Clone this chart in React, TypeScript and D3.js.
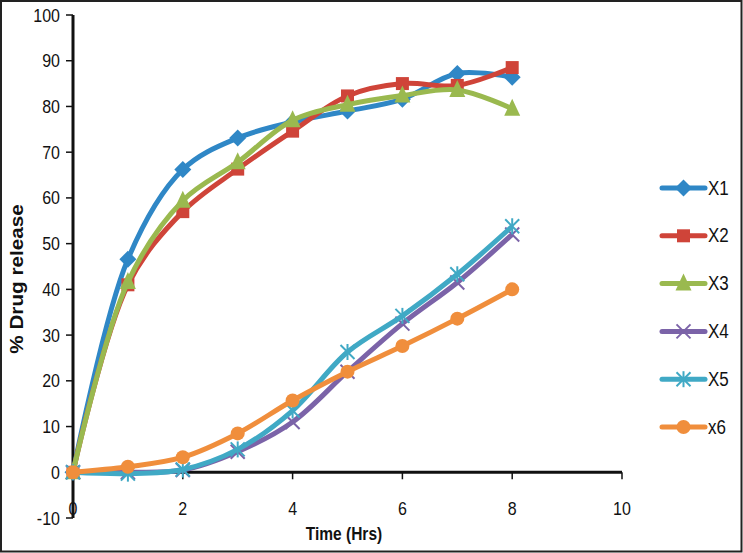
import React from "react";
import * as d3 from "d3";

const times = [0, 1, 2, 3, 4, 5, 6, 7, 8];
const seriesNames = ["X1", "X2", "X3", "X4", "X5", "x6"];
const x1 = [0, 46.6, 66.2, 73.1, 76.6, 79.0, 81.6, 87.2, 86.4];
const x2 = [0, 41.0, 57.0, 66.3, 74.6, 82.3, 85.0, 84.6, 88.5];
const x3 = [0, 41.6, 59.4, 67.8, 77.0, 80.4, 82.4, 83.6, 79.5];
const x4 = [0, 0, 0.5, 4.5, 11.0, 22.0, 32.5, 41.5, 52.0];
const x5 = [0, -0.3, 0.6, 5.0, 13.5, 26.3, 34.2, 43.3, 53.8];
const x6 = [0, 1.2, 3.3, 8.5, 15.7, 22.0, 27.6, 33.6, 40.0];
const seriesValues = [x1, x2, x3, x4, x5, x6];
const colors = ["#2f87c6", "#cf4439", "#9ab94f", "#7b63a8", "#40a9c5", "#f08e3c"];
const markers = ["diamond", "square", "triangle", "x", "asterisk", "circle"];
const yTicks = [-10, 0, 10, 20, 30, 40, 50, 60, 70, 80, 90, 100];
const xTicks = [0, 2, 4, 6, 8, 10];

const W = 743;
const H = 553;
const FONT = "'Liberation Sans', Arial, sans-serif";
const SY = 1.15;

function Marker({ type, x, y, color }: { type: string; x: number; y: number; color: string }) {
  if (type === "diamond") {
    const s = 8.5;
    return <path d={`M${x},${y - s}L${x + s},${y}L${x},${y + s}L${x - s},${y}Z`} fill={color} />;
  }
  if (type === "square") {
    const s = 6.5;
    return <rect x={x - s} y={y - s} width={2 * s} height={2 * s} fill={color} />;
  }
  if (type === "triangle") {
    const s = 8;
    return <path d={`M${x},${y - s - 2}L${x + s},${y + s - 1}L${x - s},${y + s - 1}Z`} fill={color} />;
  }
  if (type === "circle") {
    return <circle cx={x} cy={y} r={7} fill={color} />;
  }
  if (type === "x") {
    const s = 7;
    return (
      <g stroke={color} strokeWidth={2}>
        <line x1={x - s} y1={y - s} x2={x + s} y2={y + s} />
        <line x1={x - s} y1={y + s} x2={x + s} y2={y - s} />
      </g>
    );
  }
  const s = 7;
  return (
    <g stroke={color} strokeWidth={2}>
      <line x1={x - s} y1={y - s} x2={x + s} y2={y + s} />
      <line x1={x - s} y1={y + s} x2={x + s} y2={y - s} />
      <line x1={x} y1={y - s - 1} x2={x} y2={y + s + 1} />
    </g>
  );
}

function T({ x, y, anchor, size, bold, children, rotate }: any) {
  const tr = rotate ? `translate(${x},${y}) rotate(-90) scale(${SY},1)` : `translate(${x},${y}) scale(1,${SY})`;
  return (
    <text
      transform={tr}
      textAnchor={anchor}
      fontSize={size}
      fontWeight={bold ? "bold" : "normal"}
      fontFamily={FONT}
      fill="#111"
    >
      {children}
    </text>
  );
}

export default function App() {
  const xScale = d3.scaleLinear().domain([0, 10]).range([73, 622]);
  const yScale = d3.scaleLinear().domain([-10, 100]).range([518, 15]);
  const line = d3
    .line<number>()
    .x((_, i) => xScale(times[i]))
    .y((d) => yScale(d))
    .curve(d3.curveCatmullRom.alpha(0.5));

  const legendX1 = 662;
  const legendX2 = 705;
  const legendY0 = 188;
  const legendStep = 47.8;

  return (
    <svg width={W} height={H} style={{ position: "absolute", left: 0, top: 0 }}>
      <rect x={0} y={0} width={W} height={H} fill="#fff" />
      <rect x={1} y={1} width={W - 2.5} height={H - 2.5} fill="none" stroke="#222" strokeWidth={2} />

      <line x1={xScale(0)} y1={yScale(100)} x2={xScale(0)} y2={yScale(-10)} stroke="#111" strokeWidth={3} />
      {yTicks.map((t) => (
        <g key={"y" + t}>
          <line x1={xScale(0) - 7} y1={yScale(t)} x2={xScale(0)} y2={yScale(t)} stroke="#111" strokeWidth={1.5} />
          <T x={60} y={yScale(t) + 6.5} anchor="end" size={16}>
            {t}
          </T>
        </g>
      ))}

      <line x1={xScale(0)} y1={yScale(0)} x2={xScale(10)} y2={yScale(0)} stroke="#111" strokeWidth={3} />
      {xTicks.map((t) => (
        <g key={"x" + t}>
          <line x1={xScale(t)} y1={yScale(0)} x2={xScale(t)} y2={yScale(0) + 7} stroke="#111" strokeWidth={1.5} />
          <T x={xScale(t)} y={515} anchor="middle" size={16}>
            {t}
          </T>
        </g>
      ))}

      <T x={344} y={540} anchor="middle" size={15.5} bold>
        Time (Hrs)
      </T>
      <T x={23} y={279} anchor="middle" size={18} bold rotate>
        % Drug release
      </T>

      {seriesValues.map((vals, si) => (
        <g key={seriesNames[si]}>
          <path d={line(vals) || ""} fill="none" stroke={colors[si]} strokeWidth={5} strokeLinejoin="round" />
          {vals.map((v, i) => (
            <Marker key={i} type={markers[si]} x={xScale(times[i])} y={yScale(v)} color={colors[si]} />
          ))}
        </g>
      ))}

      {seriesNames.map((n, si) => {
        const y = legendY0 + si * legendStep;
        return (
          <g key={"lg" + n}>
            <line x1={legendX1} y1={y} x2={legendX2} y2={y} stroke={colors[si]} strokeWidth={5} strokeLinecap="round" />
            <Marker type={markers[si]} x={(legendX1 + legendX2) / 2} y={y} color={colors[si]} />
            <T x={708} y={y + 6.5} anchor="start" size={17}>
              {n}
            </T>
          </g>
        );
      })}
    </svg>
  );
}
